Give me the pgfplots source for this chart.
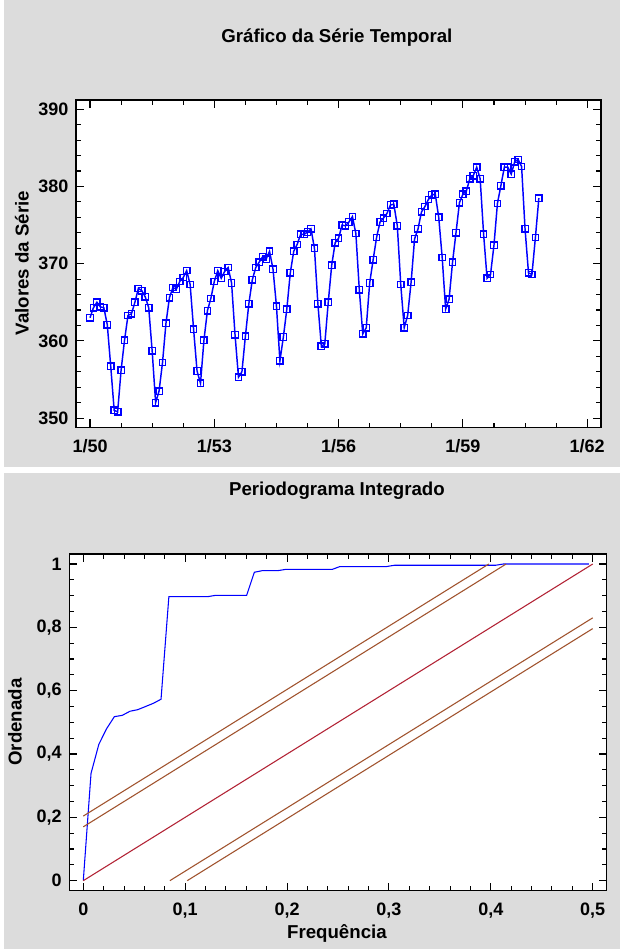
\documentclass[border=0pt]{standalone}
\usepackage{fontspec}
\setmainfont{Liberation Sans}
\usepackage{pgfplots}
\usepackage{pgfplotstable}
\pgfplotsset{compat=1.18}

\definecolor{painel}{HTML}{DCDCDC}
\definecolor{azul}{HTML}{0000FF}
\definecolor{vermelho}{HTML}{B22234}
\definecolor{marrom}{HTML}{A0522D}

% serie mensal, 1/50 ... 11/60 (mes = indice do mes desde 1/50)
\pgfplotstableread{
mes valor
0 363.0
1 364.3
2 365.0
3 364.4
4 364.3
5 362.1
6 356.7
7 351.0
8 350.8
9 356.2
10 360.1
11 363.3
12 363.5
13 365.0
14 366.8
15 366.5
16 365.7
17 364.3
18 358.7
19 352.0
20 353.5
21 357.2
22 362.3
23 365.6
24 366.9
25 366.7
26 367.7
27 368.2
28 369.1
29 367.3
30 361.5
31 356.1
32 354.5
33 360.1
34 363.9
35 365.5
36 367.7
37 369.1
38 368.1
39 369.0
40 369.5
41 367.5
42 360.8
43 355.3
44 356.0
45 360.6
46 364.8
47 367.9
48 369.5
49 370.2
50 370.9
51 370.6
52 371.6
53 369.3
54 364.5
55 357.4
56 360.5
57 364.1
58 368.8
59 371.6
60 372.5
61 373.8
62 373.8
63 374.1
64 374.5
65 372.0
66 364.8
67 359.3
68 359.6
69 365.0
70 369.8
71 372.7
72 373.3
73 375.0
74 374.9
75 375.4
76 376.1
77 373.9
78 366.6
79 360.9
80 361.7
81 367.5
82 370.5
83 373.4
84 375.4
85 375.9
86 376.5
87 377.6
88 377.7
89 374.9
90 367.3
91 361.7
92 363.3
93 367.6
94 373.2
95 374.5
96 376.7
97 377.4
98 378.3
99 378.9
100 379.0
101 376.0
102 370.8
103 364.1
104 365.4
105 370.2
106 374.0
107 377.9
108 379.0
109 379.4
110 381.0
111 381.4
112 382.5
113 381.0
114 373.8
115 368.1
116 368.6
117 372.4
118 377.8
119 380.1
120 382.5
121 382.5
122 381.6
123 383.2
124 383.5
125 382.6
126 374.5
127 368.8
128 368.6
129 373.4
130 378.5
}\serie

\pgfplotsset{painel/.style={
  scale only axis,
  axis background/.style={fill=white},
  axis line style={line width=1.2pt},
  tick align=inside,
  major tick length=6pt, minor tick length=3.5pt,
  every tick/.style={black, line width=0.8pt},
  tick label style={font=\fontsize{13.5}{15}\selectfont\bfseries, inner sep=0pt},
  xticklabel style={yshift=-9pt},
  yticklabel style={xshift=-5.5pt},
  label style={font=\fontsize{14}{16}\selectfont\bfseries},
  every axis title/.style={font=\fontsize{14}{16}\selectfont\bfseries, anchor=center},
  /pgf/number format/assume math mode=true,
}}

\begin{document}
\begin{tikzpicture}
  \fill[white] (0,0) rectangle (465pt,-711.75pt);
  \fill[painel] (3pt,0) rectangle (465pt,-350.25pt);
  \fill[painel] (3pt,-354.75pt) rectangle (465pt,-711.75pt);

  \begin{axis}[painel,
      at={(57pt,-320.5pt)}, anchor=south west,
      width=393.75pt, height=245.5pt,
      xmin=-4.06, xmax=148, ymin=348.8, ymax=391.2,
      xtick={0,36,72,108,144}, xticklabels={1/50,1/53,1/56,1/59,1/62},
      minor x tick num=3,
      ytick={350,360,370,380,390}, minor y tick num=4,
      title={Gráfico da Série Temporal},
      title style={at={(axis description cs:0.497,1.192)}},
      ylabel={Valores da Série},
      ylabel style={at={(axis description cs:-0.103,0.502)}, anchor=center},
    ]
    \addplot[azul, line width=1.1pt, mark=square, mark size=2.4pt,
             mark options={line width=1pt}]
      table[x=mes, y=valor]{\serie};
  \end{axis}

  \begin{axis}[painel,
      at={(52pt,-668pt)}, anchor=south west,
      width=403pt, height=252.5pt,
      xmin=-0.0137, xmax=0.5137, ymin=-0.0316, ymax=1.0316,
      xtick={0,0.1,0.2,0.3,0.4,0.5}, minor x tick num=4,
      ytick={0,0.2,0.4,0.6,0.8,1}, minor y tick num=3,
      /pgf/number format/use comma,
      title={Periodograma Integrado},
      title style={at={(axis description cs:0.498,1.187)}},
      xlabel={Frequência},
      xlabel style={at={(axis description cs:0.498,-0.126)}, anchor=center},
      ylabel={Ordenada},
      ylabel style={at={(axis description cs:-0.101,0.501)}, anchor=center},
    ]
    \addplot[azul, line width=0.8pt] coordinates {
      (0,0) (0.0076,0.339) (0.0153,0.431) (0.0229,0.48) (0.0305,0.518)
      (0.0382,0.522) (0.0458,0.535) (0.0534,0.54) (0.0611,0.55) (0.0687,0.56)
      (0.0763,0.573) (0.084,0.897) (0.1221,0.897) (0.1298,0.901) (0.1603,0.901)
      (0.1679,0.974) (0.1756,0.979) (0.1908,0.979) (0.1985,0.983) (0.2443,0.983)
      (0.2519,0.992) (0.2977,0.992) (0.3053,0.996) (0.4046,0.996) (0.4122,1)
      (0.4962,1)};
    \addplot[vermelho, line width=0.8pt] coordinates {(0,0) (0.5,1)};
    \addplot[marrom, line width=0.8pt] coordinates {(0,0.204) (0.398,1)};
    \addplot[marrom, line width=0.8pt] coordinates {(0,0.17) (0.415,1)};
    \addplot[marrom, line width=0.8pt] coordinates {(0.085,0) (0.5,0.83)};
    \addplot[marrom, line width=0.8pt] coordinates {(0.102,0) (0.5,0.796)};
  \end{axis}
\end{tikzpicture}
\end{document}
